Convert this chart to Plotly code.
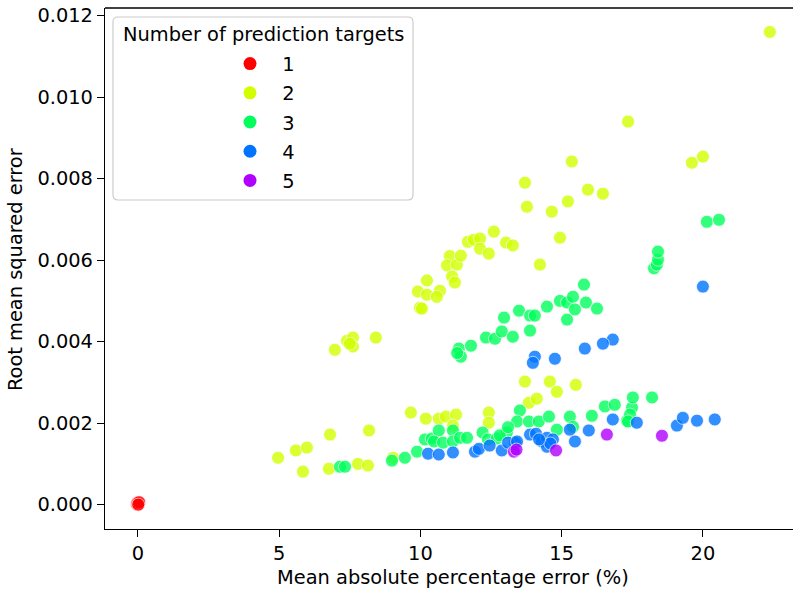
import plotly.graph_objects as go

# ---- data ----
groups = [1, 2, 3, 4, 5]
colors = ["#ff0000", "#d1ff00", "#00ff5c", "#0074ff", "#b100ff"]

mape_1 = [-0.04, 0.0, 0.03, -0.02, 0.04, 0.01]
rmse_1 = [0.00001, 0.00005, 0.00002, 0.00004, 0.00006, 0.0]

mape_2 = [6.97, 7.40, 7.61, 7.61, 7.50, 8.42, 9.98, 10.05, 9.91, 10.23, 10.23, 10.69, 10.58,
          11.04, 10.94, 11.29, 11.12, 11.22, 11.43, 11.68, 11.89, 12.11, 12.11, 12.42, 12.60,
          13.03, 13.27, 14.23, 14.94, 13.77, 14.65, 15.22, 13.70, 15.36, 15.93, 16.46, 17.35,
          19.61, 20.00, 22.37,
          4.96, 5.59, 5.98, 5.84, 6.80, 6.76, 8.18, 7.79, 8.14, 9.66, 10.19, 9.03,
          10.65, 10.90, 11.26, 11.15, 12.42, 12.42, 13.70, 14.58, 14.83, 15.50, 13.84, 14.12]
rmse_2 = [0.00380, 0.00402, 0.00410, 0.00388, 0.00395, 0.00410, 0.00483, 0.00481, 0.00523, 0.00550, 0.00515, 0.00525, 0.00510,
          0.00610, 0.00587, 0.00589, 0.00560, 0.00545, 0.00611, 0.00645, 0.00650, 0.00653, 0.00628, 0.00616, 0.00670,
          0.00643, 0.00636, 0.00589, 0.00655, 0.00731, 0.00719, 0.00744, 0.00790, 0.00842, 0.00773, 0.00763, 0.00940,
          0.00839, 0.00854, 0.01160,
          0.00115, 0.00133, 0.00140, 0.00081, 0.00172, 0.00088, 0.00182, 0.00100, 0.00096, 0.00226, 0.00211, 0.00115,
          0.00211, 0.00216, 0.00221, 0.00194, 0.00226, 0.00201, 0.00302, 0.00302, 0.00277, 0.00294, 0.00250, 0.00260]

mape_3 = [11.36, 11.43, 11.30, 11.79, 12.32, 12.64, 12.88, 12.96, 13.27, 13.49, 13.88, 13.88,
          14.05, 14.48, 14.94, 15.19, 15.40, 15.47, 15.19, 15.86, 16.25, 15.79, 18.27, 18.37,
          18.41, 18.41, 20.14, 20.57,
          7.15, 7.33, 8.99, 9.45, 9.88, 10.16, 10.40, 10.65, 10.48, 10.80, 11.15, 11.15,
          11.40, 11.65, 12.20, 12.39, 12.70, 13.06, 13.52, 13.42, 13.84, 14.19, 14.55, 14.83,
          15.29, 15.40, 16.07, 16.53, 16.88, 17.49, 17.52, 17.31, 17.42, 17.35, 18.20, 12.81, 13.10]
rmse_3 = [0.00383, 0.00363, 0.00372, 0.00390, 0.00410, 0.00407, 0.00425, 0.00459, 0.00412, 0.00476, 0.00427, 0.00464,
          0.00464, 0.00486, 0.00500, 0.00496, 0.00510, 0.00479, 0.00454, 0.00496, 0.00481, 0.00540, 0.00580, 0.00589,
          0.00601, 0.00621, 0.00694, 0.00699,
          0.00093, 0.00093, 0.00108, 0.00115, 0.00130, 0.00160, 0.00162, 0.00182, 0.00155, 0.00152, 0.00182, 0.00155,
          0.00164, 0.00164, 0.00177, 0.00160, 0.00162, 0.00177, 0.00231, 0.00204, 0.00204, 0.00204, 0.00216, 0.00184,
          0.00216, 0.00191, 0.00218, 0.00241, 0.00245, 0.00238, 0.00263, 0.00206, 0.00221, 0.00204, 0.00263, 0.00170, 0.00190]

mape_4 = [20.00, 16.81, 16.46, 15.82, 14.05, 13.98, 14.76,
          10.27, 10.65, 11.15, 11.93, 12.07, 12.88, 13.35, 13.10, 13.42, 13.88, 14.09, 14.30,
          14.48, 14.48, 14.69, 15.29, 15.47, 15.96, 16.81, 17.66, 19.08, 19.29, 19.79, 20.42,
          12.45, 14.60, 14.20]
rmse_4 = [0.00535, 0.00405, 0.00395, 0.00383, 0.00363, 0.00348, 0.00358,
          0.00125, 0.00123, 0.00128, 0.00130, 0.00137, 0.00133, 0.00152, 0.00152, 0.00155, 0.00172, 0.00174, 0.00155,
          0.00164, 0.00142, 0.00160, 0.00184, 0.00155, 0.00182, 0.00209, 0.00201, 0.00194, 0.00213, 0.00206, 0.00209,
          0.00145, 0.00150, 0.00160]

mape_5 = [13.31, 13.40, 14.80, 16.60, 18.55]
rmse_5 = [0.00130, 0.00135, 0.00133, 0.00172, 0.00169]

mape = [mape_1, mape_2, mape_3, mape_4, mape_5]
rmse = [rmse_1, rmse_2, rmse_3, rmse_4, rmse_5]

x_ticks = [0, 5, 10, 15, 20]
y_ticks = [0.000, 0.002, 0.004, 0.006, 0.008, 0.010, 0.012]

FONT = "DejaVu Sans"
FS = 19.4

fig = go.Figure()
for g, c, xs, ys in zip(groups, colors, mape, rmse):
    fig.add_trace(go.Scatter(
        x=xs, y=ys, mode="markers", showlegend=False,
        marker=dict(color=c, size=13, opacity=0.8, line=dict(color="white", width=0.8)),
        hoverinfo="x+y"))
# legend entries (solid markers, like the reference)
for g, c in zip(groups, colors):
    fig.add_trace(go.Scatter(
        x=[None], y=[None], mode="markers", name="\u00a0\u00a0" + str(g), legendgroup=str(g),
        marker=dict(color=c, size=13)))

# rounded legend frame (paper coordinates)
x0, x1, y0, y1 = 0.0116, 0.4477, 0.6315, 0.9827
rx, ry = 5 / 688, 5 / 521
frame_path = (f"M {x0+rx},{y0} L {x1-rx},{y0} Q {x1},{y0} {x1},{y0+ry} "
              f"L {x1},{y1-ry} Q {x1},{y1} {x1-rx},{y1} L {x0+rx},{y1} "
              f"Q {x0},{y1} {x0},{y1-ry} L {x0},{y0+ry} Q {x0},{y0} {x0+rx},{y0} Z")

fig.update_layout(
    width=793, height=590,
    margin=dict(l=105, r=0, t=8, b=61),
    paper_bgcolor="white", plot_bgcolor="white",
    font=dict(family=FONT, size=FS, color="black"),
    showlegend=True,
    legend=dict(x=0.1817, y=0.93, xanchor="left", yanchor="top",
                bgcolor="rgba(0,0,0,0)", font=dict(family=FONT, size=FS, color="black"),
                tracegroupgap=1),
    xaxis=dict(range=[-1.168, 23.19], tickvals=x_ticks, ticks="outside", ticklen=7,
               tickwidth=1.4, tickcolor="black", showline=True, linecolor="black",
               linewidth=1.4, mirror=False, showgrid=False, zeroline=False,
               tickfont=dict(family=FONT, size=FS)),
    yaxis=dict(range=[-0.000598, 0.012187], tickvals=y_ticks, tickformat=".3f",
               ticks="outside", ticklen=7, tickwidth=1.4, tickcolor="black",
               showline=True, linecolor="black", linewidth=1.4, showgrid=False,
               zeroline=False, tickfont=dict(family=FONT, size=FS)),
    shapes=[
        # top spine
        dict(type="line", xref="paper", yref="paper", x0=0, x1=1, y0=1, y1=1,
             line=dict(color="black", width=1.4)),
        # legend frame
        dict(type="path", xref="paper", yref="paper", path=frame_path,
             fillcolor="rgba(255,255,255,0.8)",
             line=dict(color="#cccccc", width=1.2), layer="below"),
    ],
    annotations=[
        dict(text="Number of prediction targets", xref="paper", yref="paper",
             x=0.2297, y=0.950, xanchor="center", yanchor="middle", showarrow=False,
             font=dict(family=FONT, size=FS, color="black")),
        dict(text="Mean absolute percentage error (%)", xref="paper", yref="paper",
             x=0.5058, y=-0.094, xanchor="center", yanchor="middle", showarrow=False,
             font=dict(family=FONT, size=FS, color="black")),
        dict(text="Root mean squared error", xref="paper", yref="paper",
             x=-0.1308, y=0.497, xanchor="center", yanchor="middle", showarrow=False,
             textangle=-90, font=dict(family=FONT, size=FS, color="black")),
    ],
)

fig.write_html("out.html")
